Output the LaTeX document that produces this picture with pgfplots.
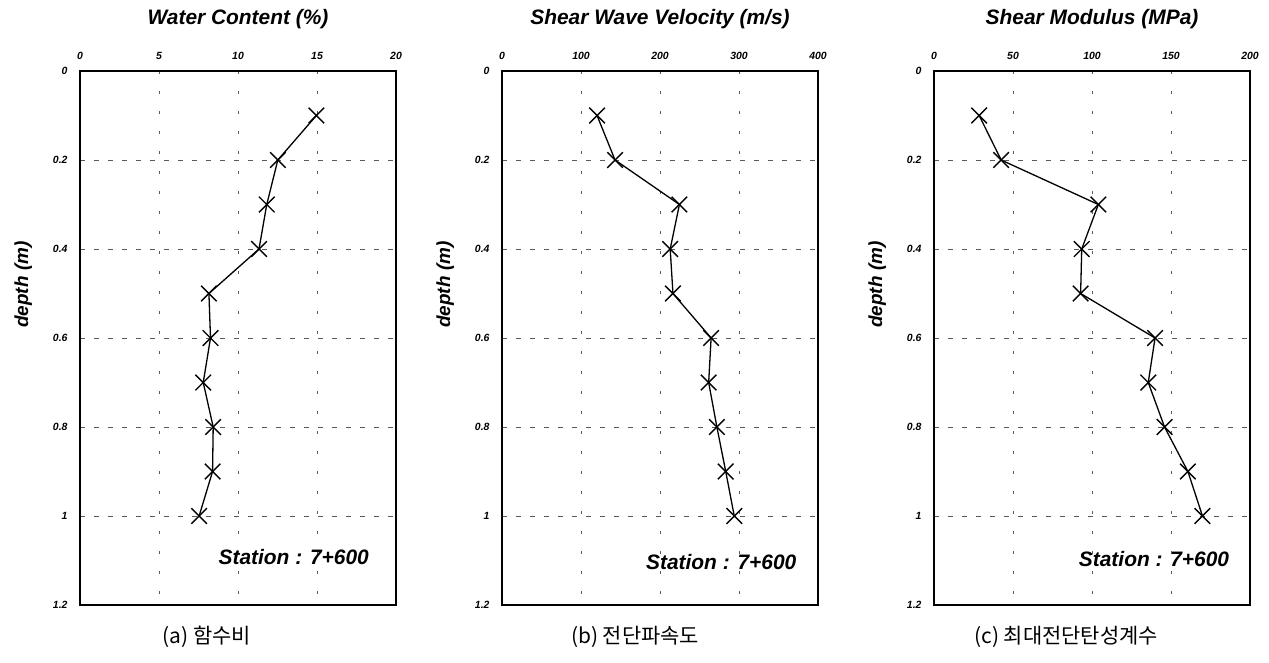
\documentclass[border=0pt]{standalone}
\usepackage{fontspec}
\setmainfont{Liberation Sans}
\newfontfamily\kr{Noto Sans CJK KR}
\usepackage{pgfplots}
\pgfplotsset{compat=1.18}

\pgfplotstableread{
depth wc
0.1 14.96
0.2 12.52
0.3 11.82
0.4 11.33
0.5 8.16
0.6 8.26
0.7 7.80
0.8 8.43
0.9 8.39
1.0 7.54
}\wcdata
\pgfplotstableread{
depth vs
0.1 120.3
0.2 143.1
0.3 224.6
0.4 212.9
0.5 216.4
0.6 264.7
0.7 261.6
0.8 272.0
0.9 283.2
1.0 294.0
}\vsdata
\pgfplotstableread{
depth g
0.1 28.6
0.2 42.5
0.3 104.0
0.4 93.5
0.5 92.8
0.6 139.9
0.7 135.6
0.8 145.9
0.9 160.7
1.0 169.9
}\gdata

\tikzset{stn/.style={anchor=east, font=\fontsize{21}{24}\selectfont\bfseries\itshape}}

\pgfplotsset{
  panel/.style={
    scale only axis,
    anchor=south west,
    width=316bp, height=534bp,
    y dir=reverse,
    ymin=0, ymax=1.2,
    ytick={0,0.2,0.4,0.6,0.8,1,1.2},
    xticklabel pos=top,
    axis line style={black, line width=1.5bp},
    major tick length=0pt,
    grid=major,
    x grid style={black!65, line width=0.7bp, dash pattern=on 3bp off 17bp},
    y grid style={black!65, line width=0.7bp, dash pattern=on 5bp off 9bp},
    /pgf/number format/assume math mode=true,
    ticklabel style={font=\fontsize{10.5}{11}\selectfont\bfseries\itshape},
    xticklabel style={anchor=south, yshift=8bp},
    yticklabel style={anchor=east, xshift=-9bp},
    title style={at={(axis description cs:0.5,1)}, anchor=center, yshift=46bp,
      font=\fontsize{21}{24}\selectfont\bfseries\itshape},
    ylabel style={at={(axis description cs:-0.18,0.6)}, anchor=center,
      font=\fontsize{19}{22}\selectfont\bfseries\itshape},
    ylabel={depth (m)},
  },
  dataline/.style={black, line width=1.3bp, mark=x, mark size=11bp,
    mark options={line width=1.4bp}},
}

\begin{document}
\begin{tikzpicture}
\path[use as bounding box] (0,0) rectangle (1269bp,663bp);

\begin{axis}[panel, at={(80bp,58bp)},
  xmin=0, xmax=20, xtick={0,5,10,15,20},
  title={Water Content (\%)}]
\addplot[dataline] table[x=wc, y=depth] {\wcdata};
\node[stn] at (axis cs:18.5,1.093) {Station : 7+600};
\end{axis}

\begin{axis}[panel, at={(502bp,58bp)},
  xmin=0, xmax=400, xtick={0,100,200,300,400},
  title={Shear Wave Velocity (m/s)}]
\addplot[dataline] table[x=vs, y=depth] {\vsdata};
\node[stn] at (axis cs:377,1.103) {Station : 7+600};
\end{axis}

\begin{axis}[panel, at={(934bp,58bp)},
  xmin=0, xmax=200, xtick={0,50,100,150,200},
  title={Shear Modulus (MPa)}]
\addplot[dataline] table[x=g, y=depth] {\gdata};
\node[stn] at (axis cs:189,1.097) {Station : 7+600};
\end{axis}

\node[font=\kr\fontsize{21}{24}\selectfont] at (207bp,26bp) {(a) 함수비};
\node[font=\kr\fontsize{21}{24}\selectfont] at (635bp,26bp) {(b) 전단파속도};
\node[font=\kr\fontsize{21}{24}\selectfont] at (1066bp,26bp) {(c) 최대전단탄성계수};
\end{tikzpicture}
\end{document}
